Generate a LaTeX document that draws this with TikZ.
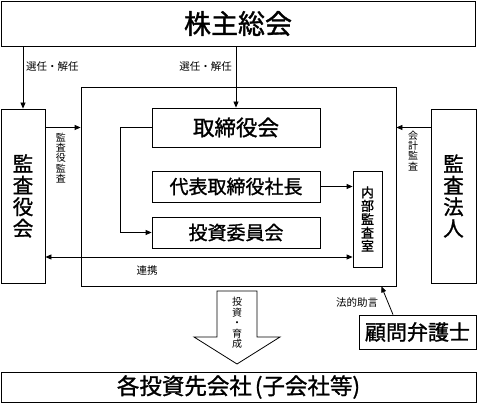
\documentclass[tikz,border=0pt]{standalone}
\usepackage{fontspec}
\newfontfamily\jp{Noto Sans CJK JP}
\newfontfamily\jpb[FakeBold=1.2]{Noto Sans CJK JP}
\usetikzlibrary{arrows.meta}
\begin{document}
\begin{tikzpicture}[x=1pt,y=-1pt,
  box/.style={draw=black,line width=0.8pt,inner sep=0pt,align=center,font=\jpb},
  arr/.style={line width=0.8pt,-{Triangle[length=6pt,width=5pt]}},
  darr/.style={line width=0.8pt,{Triangle[length=6pt,width=5pt]}-{Triangle[length=6pt,width=5pt]}},
  lbl/.style={inner sep=0pt,font=\jp\fontsize{10.5}{11}\selectfont},
  vlbl/.style={inner sep=0pt,align=center,font=\jp\fontsize{10}{10.2}\selectfont}]
\useasboundingbox[fill=white] (0,0) rectangle (477,403);
% boxes
\node[box,minimum width=474pt,minimum height=45pt,font=\jpb\fontsize{27}{28}\selectfont] (sh) at (238,23.5) {株主総会};
\node[box,minimum width=315pt,minimum height=199pt] (in) at (238.5,186.5) {};
\node[box,minimum width=44pt,minimum height=174pt,font=\jpb\fontsize{20.5}{21.5}\selectfont] (kansa) at (23,196) {監\\査\\役\\会};
\node[box,minimum width=45pt,minimum height=174pt,font=\jpb\fontsize{20.5}{21.5}\selectfont] (hojin) at (453.5,196) {監\\査\\法\\人};
\node[box,minimum width=168pt,minimum height=39pt,font=\jpb\fontsize{21.5}{23}\selectfont] (tori) at (236,127.5) {取締役会};
\node[box,minimum width=168pt,minimum height=31pt,font=\jpb\fontsize{19}{21}\selectfont] (daihyo) at (236,186.5) {代表取締役社長};
\node[box,minimum width=168pt,minimum height=31pt,font=\jpb\fontsize{19}{21}\selectfont] (toshi) at (236,232.5) {投資委員会};
\node[box,minimum width=29pt,minimum height=96pt,font=\jpb\fontsize{13}{13.4}\selectfont] (naibu) at (367.5,219) {内\\部\\監\\査\\室};
\node[box,minimum width=117pt,minimum height=34pt,font=\jpb\fontsize{21}{23}\selectfont] (komon) at (417.5,332) {顧問弁護士};
\node[box,minimum width=475pt,minimum height=30pt,font=\jpb\fontsize{22.5}{24}\selectfont] (kaisha) at (238.5,387) {各投資先会社\kern3pt(子会社等)};
% connectors
\draw[arr] (kansa.north |- sh.south) -- (kansa.north);
\draw[arr] (tori.north |- sh.south) -- (tori.north);
\node[lbl,anchor=west] (l1) at (26,67) {選任・解任};
\node[lbl,anchor=east] (l2) at (232,67) {選任・解任};
\draw[arr] (kansa.east |- tori) -- (in.west |- tori);
\node[vlbl] (l3) at (61,158) {監\\査\\役\\監\\査};
\draw[arr] (hojin.west |- tori) -- (in.east |- tori);
\node[vlbl] (l4) at (413,151) {会\\計\\監\\査};
\draw[arr] (tori.west) -- ++(-31,0) |- (toshi.west);
\draw[arr] (daihyo.east) -- (naibu.west |- daihyo);
\coordinate (ry) at (0,257);
\draw[darr] (kansa.east |- ry) -- (naibu.west |- ry);
\node[lbl] (l5) at (147,271) {連携};
\draw[arr] ([xshift=-24.5pt]komon.north) -- ([xshift=-15pt]in.south east);
\node[lbl] (l6) at (357,303) {法的助言};
% block arrow
\draw[line width=0.8pt,fill=white] (217,291) -- (257,291) -- (257,337) -- (280,337) -- (237,364) -- (194,337) -- (217,337) -- cycle;
\node[vlbl,font=\jp\fontsize{10}{10.6}\selectfont] (l7) at (237,323) {投\\資\\・\\育\\成};
\end{tikzpicture}
\end{document}
